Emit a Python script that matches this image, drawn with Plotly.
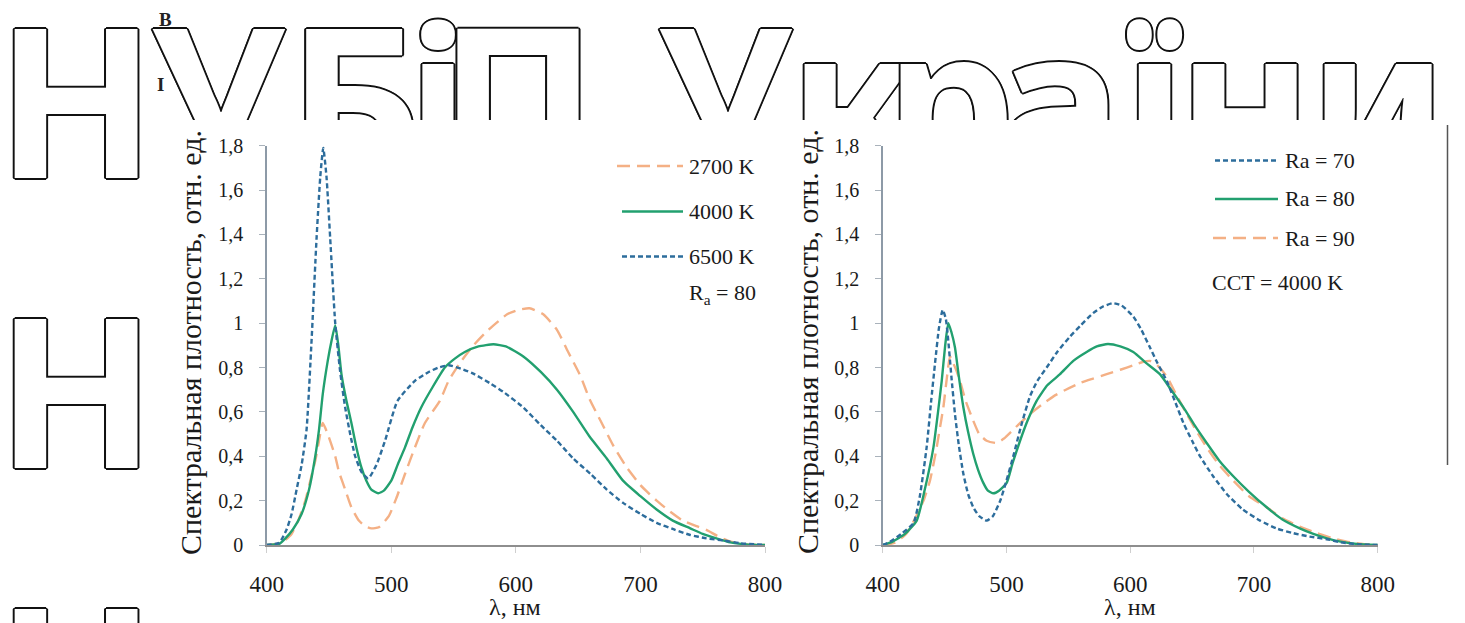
import plotly.graph_objects as go

W, H = 1465, 623

# ---------------- data (wavelength nm, relative spectral density) ----------------
# Left panel: different CCT at Ra = 80
spd_2700 = [(400, 0), (412, 0.01), (420, 0.05), (426, 0.12), (431, 0.20), (435, 0.29), (439, 0.38),
            (442, 0.47), (445, 0.55), (449, 0.50), (455, 0.40), (458, 0.33), (463, 0.25), (468, 0.17),
            (474, 0.11), (479, 0.085), (484, 0.075), (490, 0.08), (498, 0.13), (504, 0.21), (511, 0.32),
            (519, 0.44), (527, 0.55), (539, 0.65), (546, 0.74), (555, 0.82), (566, 0.90), (578, 0.97),
            (593, 1.04), (602, 1.06), (611, 1.067), (622, 1.04), (633, 0.97), (642, 0.87), (652, 0.76),
            (659, 0.66), (668, 0.56), (678, 0.45), (689, 0.35), (700, 0.27), (713, 0.20), (724, 0.15),
            (734, 0.11), (745, 0.085), (753, 0.068), (762, 0.04), (770, 0.02), (780, 0.005), (800, 0)]
spd_4000 = [(400, 0), (410, 0.005), (415, 0.03), (421, 0.07), (428, 0.14), (434, 0.25), (439, 0.40),
            (442, 0.52), (445, 0.68), (449, 0.83), (452, 0.92), (455, 0.99), (457.5, 0.90), (460, 0.77),
            (464, 0.65), (468, 0.55), (472, 0.44), (476, 0.35), (480, 0.29), (484, 0.25), (489.5, 0.233),
            (494, 0.245), (500, 0.29), (505, 0.36), (511, 0.44), (517, 0.53), (524, 0.62), (533, 0.71),
            (543, 0.80), (551, 0.84), (559, 0.87), (570, 0.895), (582, 0.905), (592, 0.895), (606, 0.85),
            (620, 0.78), (633, 0.70), (646, 0.60), (659, 0.49), (673, 0.39), (686, 0.29), (700, 0.22),
            (713, 0.16), (726, 0.11), (740, 0.075), (750, 0.05), (761, 0.03), (772, 0.012), (785, 0.003),
            (800, 0)]
spd_6500 = [(400, 0), (410, 0.01), (416, 0.07), (420, 0.14), (424, 0.25), (428, 0.36), (432, 0.52),
            (436, 0.92), (440, 1.38), (443, 1.66), (445.4, 1.79), (448, 1.66), (451, 1.38), (455, 1.0),
            (459, 0.78), (463, 0.62), (467, 0.50), (471, 0.40), (476, 0.33), (481.5, 0.30), (488, 0.36),
            (495, 0.47), (505, 0.65), (519, 0.74), (530, 0.78), (538, 0.80), (546, 0.81), (556, 0.795),
            (565, 0.775), (579, 0.73), (590, 0.69), (606, 0.62), (620, 0.54), (633, 0.47), (646, 0.39),
            (660, 0.32), (673, 0.25), (686, 0.19), (700, 0.14), (713, 0.10), (727, 0.07), (740, 0.045),
            (753, 0.03), (767, 0.02), (780, 0.008), (800, 0)]

# Right panel: different Ra at CCT = 4000 K
spd_ra70 = [(400, 0), (406, 0.015), (415, 0.05), (425, 0.10), (430, 0.22), (435.5, 0.44), (439, 0.64),
            (442.3, 0.82), (445.5, 0.98), (448.5, 1.06), (451, 1.02), (453, 0.92), (455.5, 0.76),
            (458.4, 0.59), (461.5, 0.45), (465.2, 0.32), (469, 0.23), (473.2, 0.17), (478, 0.13),
            (484, 0.11), (489, 0.13), (495, 0.20), (500, 0.29), (505.5, 0.40), (512, 0.54), (519, 0.67),
            (525, 0.74), (532.5, 0.80), (541, 0.87), (551.4, 0.94), (560, 0.99), (570, 1.045), (578, 1.075),
            (586, 1.09), (593, 1.08), (602.5, 1.03), (609, 0.97), (616, 0.89), (622, 0.82), (629.5, 0.74),
            (636, 0.65), (643, 0.55), (650, 0.47), (656.4, 0.40), (667, 0.31), (678, 0.23), (691, 0.16),
            (705, 0.11), (718, 0.075), (732, 0.053), (745, 0.038), (759, 0.026), (770, 0.012), (785, 0.003),
            (800, 0)]
spd_ra80 = [(400, 0), (408, 0.015), (418, 0.05), (427.5, 0.11), (434, 0.25), (441, 0.44), (444.5, 0.59),
            (447.7, 0.74), (450.5, 0.90), (453, 1.0), (455.5, 0.96), (458.4, 0.89), (461.5, 0.76),
            (465.2, 0.62), (469, 0.51), (473.2, 0.41), (477, 0.34), (481.3, 0.28), (485, 0.245),
            (489.4, 0.233), (494, 0.245), (500.2, 0.28), (505, 0.37), (511, 0.47), (517, 0.56), (524.4, 0.65),
            (533, 0.72), (543.3, 0.77), (554, 0.83), (564.8, 0.87), (573, 0.895), (582, 0.906), (592, 0.895),
            (602.5, 0.87), (613, 0.82), (624, 0.77), (633, 0.70), (643, 0.62), (652, 0.54), (661.8, 0.46),
            (672, 0.38), (683.3, 0.31), (696, 0.24), (710.3, 0.17), (723, 0.115), (737, 0.075), (748, 0.05),
            (759, 0.03), (770, 0.015), (783, 0.005), (800, 0)]
spd_ra90 = [(400, 0), (410, 0.01), (419.4, 0.053), (428, 0.14), (433, 0.20), (438.2, 0.29), (443, 0.42),
            (446, 0.52), (449, 0.62), (452, 0.76), (454.4, 0.85), (457, 0.82), (460, 0.78), (462.5, 0.74),
            (467, 0.65), (473.2, 0.56), (478, 0.50), (484, 0.47), (492, 0.46), (498, 0.48), (505.5, 0.52),
            (512, 0.555), (519, 0.59), (528, 0.63), (538, 0.67), (548, 0.70), (559.4, 0.73), (570, 0.75),
            (581, 0.77), (592, 0.79), (602.5, 0.81), (610, 0.825), (616, 0.83), (622, 0.81), (629.5, 0.76),
            (637, 0.68), (645.7, 0.59), (654, 0.51), (661.8, 0.44), (672, 0.36), (683.3, 0.29), (696, 0.22),
            (710.3, 0.17), (723, 0.12), (737, 0.083), (750, 0.055), (764, 0.03), (778, 0.012), (793, 0.002),
            (800, 0)]

x_ticks = [400, 500, 600, 700, 800]
y_title = "Спектральная плотность, отн. ед."
x_title = "λ, нм"
left_labels = ["2700 K", "4000 K", "6500 K"]
left_note = "R<sub>a</sub> = 80"
right_labels = ["Ra = 70", "Ra = 80", "Ra = 90"]
right_note = "CCT = 4000 K"

# watermark (background decoration of the scanned page)
wm_row1_letters = ["Н", "У", "Б", "і", "П", "У", "к", "р", "а", "ї", "н", "и"]
wm_row1_x = [76, 218, 355, 438, 518, 725, 852, 950, 1060, 1153, 1245, 1378]

# ---------------- styles ----------------
BLUE = "#2d6d9c"
GREEN = "#22a06f"
ORANGE = "#f4b085"
SERIF = "Liberation Serif, Times New Roman, serif"


def px(x):
    return x / W


def py(y):
    return 1 - y / H


fig = go.Figure()


def add(series, color, dash, xa, ya, width=2.4):
    fig.add_trace(go.Scatter(
        x=[p[0] for p in series], y=[p[1] for p in series], mode="lines",
        line=dict(color=color, width=width, dash=dash, shape="spline", smoothing=0.5),
        xaxis=xa, yaxis=ya, showlegend=False, hoverinfo="skip"))


DASH_O = "13px,7px"
DASH_B = "5px,3px"

add(spd_2700, ORANGE, DASH_O, "x", "y")
add(spd_4000, GREEN, "solid", "x", "y")
add(spd_6500, BLUE, DASH_B, "x", "y")

add(spd_ra90, ORANGE, DASH_O, "x2", "y2")
add(spd_ra80, GREEN, "solid", "x2", "y2")
add(spd_ra70, BLUE, DASH_B, "x2", "y2")

# watermark traces (clipped to the page strips outside the chart image)
WM_FS = 208
wm_font = dict(family="Noto Sans", size=WM_FS, color="white", weight=700,
               shadow="2px 0 0 #111, -2px 0 0 #111, 0 2px 0 #111, 0 -2px 0 #111, "
                      "1.4px 1.4px 0 #111, -1.4px -1.4px 0 #111, 1.4px -1.4px 0 #111, -1.4px 1.4px 0 #111")
fig.add_trace(go.Scatter(x=wm_row1_x, y=[178 - 0.25 * WM_FS] * len(wm_row1_x), text=wm_row1_letters,
                         mode="text", textposition="middle center", textfont=wm_font,
                         xaxis="x3", yaxis="y3", showlegend=False, hoverinfo="skip", cliponaxis=True))
fig.add_trace(go.Scatter(x=[76, 76, 76], y=[178 - 0.25 * WM_FS, 468 - 0.25 * WM_FS, 758 - 0.25 * WM_FS],
                         text=["Н", "Н", "Н"], mode="text", textposition="middle center", textfont=wm_font,
                         xaxis="x4", yaxis="y4", showlegend=False, hoverinfo="skip", cliponaxis=True))

x_dom_l = [px(266.7), px(765)]
x_dom_r = [px(882.7), px(1377.7)]
y_dom = [py(545), py(145.7)]

xcommon = dict(range=[400, 800], tickvals=x_ticks, showline=True, linecolor="#8e8e8e", linewidth=2.2,
               ticks="outside", ticklen=6, tickcolor="#cfcfcf", tickwidth=1, showgrid=False, zeroline=False,
               tickfont=dict(family=SERIF, size=23, color="#1a1a1a"), ticklabelstandoff=11,
               automargin=False, fixedrange=True)
ycommon = dict(range=[0, 1.8], tick0=0, dtick=0.2, showline=True, linecolor="#8d9aa7", linewidth=1.5,
               ticks="outside", ticklen=6, tickcolor="#a9b2bb", tickwidth=1, showgrid=False, zeroline=False,
               tickfont=dict(family=SERIF, size=20, color="#1a1a1a"), ticklabelstandoff=12,
               automargin=False, fixedrange=True)

hidden = dict(visible=False, showgrid=False, zeroline=False, fixedrange=True)

fig.update_layout(
    width=W, height=H, autosize=False,
    margin=dict(l=0, r=0, t=0, b=0, pad=0),
    paper_bgcolor="white", plot_bgcolor="rgba(0,0,0,0)",
    separators=", ",
    showlegend=False,
    xaxis=dict(domain=x_dom_l, anchor="y", **xcommon),
    yaxis=dict(domain=y_dom, anchor="x", **ycommon),
    xaxis2=dict(domain=x_dom_r, anchor="y2", **xcommon),
    yaxis2=dict(domain=y_dom, anchor="x2", **ycommon),
    xaxis3=dict(domain=[px(145), 1], range=[145, W], anchor="y3", **hidden),
    yaxis3=dict(domain=[py(120), 1], range=[120, 0], anchor="x3", **hidden),
    xaxis4=dict(domain=[0, px(145)], range=[0, 145], anchor="y4", **hidden),
    yaxis4=dict(domain=[0, 1], range=[H, 0], anchor="x4", **hidden),
)

ann = []
# axis titles
for cx in (190, 807):
    ann.append(dict(x=px(cx), y=py(342), xref="paper", yref="paper", text=y_title, textangle=-90,
                    showarrow=False, xanchor="center", yanchor="middle",
                    font=dict(family=SERIF, size=30, color="#1a1a1a")))
for cx in (515, 1130):
    ann.append(dict(x=px(cx), y=py(607), xref="paper", yref="paper", text=x_title,
                    showarrow=False, xanchor="center", yanchor="middle",
                    font=dict(family=SERIF, size=24, color="#1a1a1a")))

shapes = []
LEG_FONT = dict(family=SERIF, size=22, color="#1a1a1a")
# left legend
left_rows = [(166, ORANGE, DASH_O, 617), (211.5, GREEN, "solid", 622), (256.5, BLUE, DASH_B, 622)]
for (yy, col, dsh, x0), lab in zip(left_rows, left_labels):
    shapes.append(dict(type="line", xref="paper", yref="paper", x0=px(x0), x1=px(683), y0=py(yy), y1=py(yy),
                       line=dict(color=col, width=2.4, dash=dsh)))
    ann.append(dict(x=px(687), y=py(yy), xref="paper", yref="paper", text=lab, showarrow=False,
                    xanchor="left", yanchor="middle", font=LEG_FONT))
ann.append(dict(x=px(687), y=py(294), xref="paper", yref="paper", text=left_note, showarrow=False,
                xanchor="left", yanchor="middle", font=LEG_FONT))
# right legend
right_rows = [(160.5, BLUE, DASH_B, 1215), (199, GREEN, "solid", 1215), (238, ORANGE, DASH_O, 1213)]
for (yy, col, dsh, x0), lab in zip(right_rows, right_labels):
    shapes.append(dict(type="line", xref="paper", yref="paper", x0=px(x0), x1=px(1278), y0=py(yy), y1=py(yy),
                       line=dict(color=col, width=2.4, dash=dsh)))
    ann.append(dict(x=px(1283), y=py(yy), xref="paper", yref="paper", text=lab, showarrow=False,
                    xanchor="left", yanchor="middle", font=LEG_FONT))
ann.append(dict(x=px(1210), y=py(282), xref="paper", yref="paper", text=right_note, showarrow=False,
                xanchor="left", yanchor="middle", font=LEG_FONT))

# page fragments around the chart image
ann.append(dict(x=px(165), y=py(20), xref="paper", yref="paper", text="<b>В</b>", showarrow=False,
                xanchor="center", yanchor="middle", font=dict(family=SERIF, size=19, color="#222")))
ann.append(dict(x=px(160), y=py(84), xref="paper", yref="paper", text="<b>І</b>", showarrow=False,
                xanchor="center", yanchor="middle", font=dict(family=SERIF, size=19, color="#222")))
shapes.append(dict(type="line", xref="paper", yref="paper", x0=px(1447.5), x1=px(1447.5), y0=py(125), y1=py(465),
                   line=dict(color="#555", width=1.5)))

fig.update_layout(annotations=ann, shapes=shapes)

fig.write_html("out.html", config={"displayModeBar": False, "staticPlot": True},
               post_script="document.body.style.margin='0';document.body.style.overflow='hidden';")
